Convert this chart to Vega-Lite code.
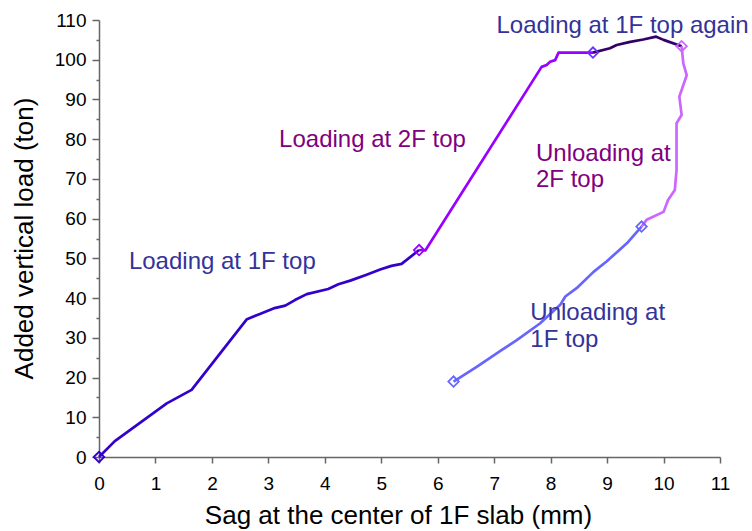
{
  "$schema": "https://vega.github.io/schema/vega-lite/v6.json",
  "width": 621,
  "height": 437,
  "autosize": "none",
  "padding": {"left": 99, "top": 20, "right": 32, "bottom": 74},
  "config": {
    "font": "Liberation Sans",
    "view": {"stroke": null},
    "axis": {"grid": false, "domainColor": "#666666", "tickColor": "#666666", "domainWidth": 1.5, "tickWidth": 1.5, "labelColor": "#000000", "titleColor": "#000000", "labelFont": "Liberation Sans", "titleFont": "Liberation Sans", "labelFontSize": 19, "titleFontSize": 26, "titleFontWeight": "normal", "labelOverlap": false, "labelFlush": false}
  },
  "datasets": {
    "curves": [
      {"series": "Loading at 1F top", "i": 1, "x": 0, "y": 0},
      {"series": "Loading at 1F top", "i": 2, "x": 0.28, "y": 4.0},
      {"series": "Loading at 1F top", "i": 3, "x": 1.2, "y": 13.5},
      {"series": "Loading at 1F top", "i": 4, "x": 1.64, "y": 16.9},
      {"series": "Loading at 1F top", "i": 5, "x": 2.62, "y": 34.7},
      {"series": "Loading at 1F top", "i": 6, "x": 2.85, "y": 36.0},
      {"series": "Loading at 1F top", "i": 7, "x": 3.09, "y": 37.4},
      {"series": "Loading at 1F top", "i": 8, "x": 3.3, "y": 38.1},
      {"series": "Loading at 1F top", "i": 9, "x": 3.47, "y": 39.5},
      {"series": "Loading at 1F top", "i": 10, "x": 3.68, "y": 41.0},
      {"series": "Loading at 1F top", "i": 11, "x": 4.06, "y": 42.3},
      {"series": "Loading at 1F top", "i": 12, "x": 4.24, "y": 43.5},
      {"series": "Loading at 1F top", "i": 13, "x": 4.45, "y": 44.4},
      {"series": "Loading at 1F top", "i": 14, "x": 4.74, "y": 45.9},
      {"series": "Loading at 1F top", "i": 15, "x": 4.98, "y": 47.2},
      {"series": "Loading at 1F top", "i": 16, "x": 5.18, "y": 48.1},
      {"series": "Loading at 1F top", "i": 17, "x": 5.36, "y": 48.6},
      {"series": "Loading at 1F top", "i": 18, "x": 5.67, "y": 52.1},
      {"series": "Loading at 2F top", "i": 1, "x": 5.67, "y": 52.1},
      {"series": "Loading at 2F top", "i": 2, "x": 5.78, "y": 52.0},
      {"series": "Loading at 2F top", "i": 3, "x": 7.84, "y": 98.2},
      {"series": "Loading at 2F top", "i": 4, "x": 7.93, "y": 98.7},
      {"series": "Loading at 2F top", "i": 5, "x": 7.99, "y": 99.5},
      {"series": "Loading at 2F top", "i": 6, "x": 8.08, "y": 99.9},
      {"series": "Loading at 2F top", "i": 7, "x": 8.14, "y": 101.8},
      {"series": "Loading at 2F top", "i": 8, "x": 8.75, "y": 101.8},
      {"series": "Loading at 1F top again", "i": 1, "x": 8.75, "y": 101.8},
      {"series": "Loading at 1F top again", "i": 2, "x": 9.05, "y": 102.9},
      {"series": "Loading at 1F top again", "i": 3, "x": 9.17, "y": 103.7},
      {"series": "Loading at 1F top again", "i": 4, "x": 9.41, "y": 104.5},
      {"series": "Loading at 1F top again", "i": 5, "x": 9.64, "y": 105.1},
      {"series": "Loading at 1F top again", "i": 6, "x": 9.87, "y": 105.8},
      {"series": "Loading at 1F top again", "i": 7, "x": 10.0, "y": 105.0},
      {"series": "Loading at 1F top again", "i": 8, "x": 10.32, "y": 103.4},
      {"series": "Unloading at 2F top", "i": 1, "x": 10.32, "y": 103.4},
      {"series": "Unloading at 2F top", "i": 2, "x": 10.35, "y": 99.1},
      {"series": "Unloading at 2F top", "i": 3, "x": 10.41, "y": 96.1},
      {"series": "Unloading at 2F top", "i": 4, "x": 10.28, "y": 90.7},
      {"series": "Unloading at 2F top", "i": 5, "x": 10.32, "y": 86.1},
      {"series": "Unloading at 2F top", "i": 6, "x": 10.23, "y": 84.0},
      {"series": "Unloading at 2F top", "i": 7, "x": 10.23, "y": 72.2},
      {"series": "Unloading at 2F top", "i": 8, "x": 10.2, "y": 67.2},
      {"series": "Unloading at 2F top", "i": 9, "x": 10.08, "y": 64.7},
      {"series": "Unloading at 2F top", "i": 10, "x": 10.0, "y": 61.7},
      {"series": "Unloading at 2F top", "i": 11, "x": 9.7, "y": 59.7},
      {"series": "Unloading at 2F top", "i": 12, "x": 9.61, "y": 58.0},
      {"series": "Unloading at 1F top", "i": 1, "x": 9.61, "y": 58.0},
      {"series": "Unloading at 1F top", "i": 2, "x": 9.35, "y": 53.8},
      {"series": "Unloading at 1F top", "i": 3, "x": 8.99, "y": 49.2},
      {"series": "Unloading at 1F top", "i": 4, "x": 8.76, "y": 46.6},
      {"series": "Unloading at 1F top", "i": 5, "x": 8.46, "y": 42.5},
      {"series": "Unloading at 1F top", "i": 6, "x": 8.26, "y": 40.4},
      {"series": "Unloading at 1F top", "i": 7, "x": 8.17, "y": 38.3},
      {"series": "Unloading at 1F top", "i": 8, "x": 7.81, "y": 33.6},
      {"series": "Unloading at 1F top", "i": 9, "x": 7.4, "y": 29.4},
      {"series": "Unloading at 1F top", "i": 10, "x": 7.13, "y": 26.9},
      {"series": "Unloading at 1F top", "i": 11, "x": 6.69, "y": 22.7},
      {"series": "Unloading at 1F top", "i": 12, "x": 6.28, "y": 19.0}
    ],
    "markers": [
      {"m": "a", "x": 0, "y": 0},
      {"m": "b", "x": 5.67, "y": 52.1},
      {"m": "c", "x": 8.75, "y": 101.8},
      {"m": "d", "x": 10.32, "y": 103.4},
      {"m": "e", "x": 9.61, "y": 58.0},
      {"m": "e", "x": 6.28, "y": 19.0}
    ],
    "labels": [
      {"text": "Loading at 1F top", "x": 0.53, "y": 49.1, "tc": "blue"},
      {"text": "Loading at 2F top", "x": 3.19, "y": 79.8, "tc": "purple"},
      {"text": "Loading at 1F top again", "x": 7.04, "y": 108.5, "tc": "blue"},
      {"text": "Unloading at", "x": 7.74, "y": 76.3, "tc": "purple"},
      {"text": "2F top", "x": 7.74, "y": 69.7, "tc": "purple"},
      {"text": "Unloading at", "x": 7.64, "y": 36.2, "tc": "blue"},
      {"text": "1F top", "x": 7.64, "y": 29.4, "tc": "blue"}
    ]
  },
  "encoding": {
    "x": {"field": "x", "type": "quantitative", "scale": {"domain": [0, 11], "nice": false, "zero": false},
      "axis": {"title": "Sag at the center of 1F slab (mm)",
        "values": [0, 0.5, 1, 1.5, 2, 2.5, 3, 3.5, 4, 4.5, 5, 5.5, 6, 6.5, 7, 7.5, 8, 8.5, 9, 9.5, 10, 10.5, 11],
        "format": "d",
        "labelExpr": "datum.value % 1 === 0 ? datum.label : ''",
        "tickSize": {"condition": {"test": "datum.value % 1 === 0", "value": 6}, "value": 3},
        "labelPadding": 11, "titleX": 299, "titleY": 66, "titleBaseline": "alphabetic"}},
    "y": {"field": "y", "type": "quantitative", "scale": {"domain": [0, 110], "nice": false, "zero": false},
      "axis": {"title": "Added vertical load (ton)",
        "values": [0, 5, 10, 15, 20, 25, 30, 35, 40, 45, 50, 55, 60, 65, 70, 75, 80, 85, 90, 95, 100, 105, 110],
        "format": "d",
        "labelExpr": "datum.value % 10 === 0 ? datum.label : ''",
        "tickSize": {"condition": {"test": "datum.value % 10 === 0", "value": 7}, "value": 3},
        "labelPadding": 6, "titleX": -67, "titleY": 218, "titleBaseline": "alphabetic"}}
  },
  "layer": [
    {
      "data": {"name": "curves"},
      "mark": {"type": "line", "strokeWidth": 2.7, "strokeJoin": "round"},
      "encoding": {
        "color": {"field": "series", "type": "nominal", "legend": null,
          "scale": {"domain": ["Loading at 1F top", "Loading at 2F top", "Loading at 1F top again", "Unloading at 2F top", "Unloading at 1F top"],
            "range": ["#3300CC", "#9900FF", "#330066", "#CC66FF", "#6666FF"]}},
        "order": {"field": "i", "type": "quantitative"}
      }
    },
    {
      "data": {"name": "markers"},
      "mark": {"type": "point", "shape": "diamond", "filled": false, "size": 110, "strokeWidth": 1.8, "opacity": 1},
      "encoding": {
        "stroke": {"field": "m", "type": "nominal", "legend": null,
          "scale": {"domain": ["a", "b", "c", "d", "e"], "range": ["#3300CC", "#9900FF", "#6633FF", "#CC66FF", "#6666FF"]}}
      }
    },
    {
      "data": {"name": "labels"},
      "mark": {"type": "text", "align": "left", "baseline": "middle", "fontSize": 24, "font": "Liberation Sans"},
      "encoding": {
        "text": {"field": "text"},
        "fill": {"field": "tc", "type": "nominal", "legend": null,
          "scale": {"domain": ["blue", "purple"], "range": ["#333399", "#800080"]}}
      }
    }
  ]
}
